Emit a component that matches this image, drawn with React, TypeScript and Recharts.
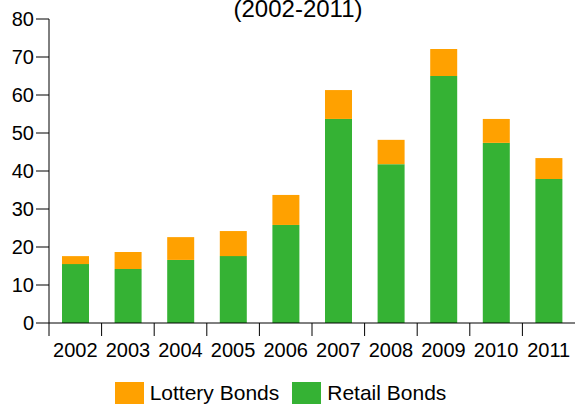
import React from 'react';
import { BarChart, Bar, XAxis, YAxis, Legend } from 'recharts';

const years = ['2002', '2003', '2004', '2005', '2006', '2007', '2008', '2009', '2010', '2011'];
const retailBonds = [15.5, 14.2, 16.6, 17.6, 25.8, 53.7, 41.8, 65.0, 47.4, 37.9];
const lotteryBonds = [2.1, 4.5, 6.0, 6.6, 7.9, 7.6, 6.4, 7.1, 6.3, 5.5];
const yTicks = [0, 10, 20, 30, 40, 50, 60, 70, 80];

const W = 575;
const H = 404;
const Y_AXIS_W = 49;
const FONT = '"Liberation Sans", Arial, sans-serif';
const GREEN = '#35b234';
const ORANGE = '#ffa100';

const data = years.map((year, i) => ({
  year,
  retail: retailBonds[i],
  lottery: lotteryBonds[i],
}));

const bandWidth = (W - Y_AXIS_W) / years.length;

const XTick = (props: any) => {
  const { x, y, payload } = props;
  const left = x - bandWidth / 2;
  return (
    <g>
      <line x1={left} y1={y} x2={left} y2={y + 13} stroke="#000" />
      <text x={x} y={y + 34} textAnchor="middle" fill="#000" fontSize={20} fontFamily={FONT}>
        {payload.value}
      </text>
    </g>
  );
};

const LegendContent = (props: any) => {
  const items = [...(props.payload || [])].sort((a: any, b: any) =>
    String(a.value).localeCompare(String(b.value))
  );
  return (
    <div style={{ display: 'flex', justifyContent: 'center', alignItems: 'flex-start' }}>
      {items.map((item: any, i: number) => (
        <div key={item.value} style={{ display: 'flex', alignItems: 'flex-start', marginRight: i < items.length - 1 ? 13 : 0 }}>
          <span style={{ width: 29, height: 29, background: item.color, marginRight: 6, display: 'inline-block' }} />
          <span style={{ fontSize: 21, lineHeight: '21px', color: '#000', fontFamily: FONT }}>{item.value}</span>
        </div>
      ))}
    </div>
  );
};

export default function App() {
  return (
    <div style={{ position: 'absolute', left: 0, top: 0, width: W, height: H, background: '#fff', fontFamily: FONT, overflow: 'hidden' }}>
      <div
        style={{
          position: 'absolute',
          top: -3,
          left: 0,
          width: 596,
          textAlign: 'center',
          fontSize: 24,
          lineHeight: '24px',
          color: '#000',
        }}
      >
        (2002-2011)
      </div>
      <BarChart width={W} height={H} data={data} margin={{ top: 19, right: 0, bottom: 0, left: 0 }}>
        <XAxis
          dataKey="year"
          height={81}
          axisLine={{ stroke: '#000' }}
          tickLine={false}
          tickSize={0}
          tickMargin={0}
          interval={0}
          tick={<XTick />}
        />
        <YAxis
          width={Y_AXIS_W}
          domain={[0, 80]}
          ticks={yTicks}
          interval={0}
          axisLine={{ stroke: '#000' }}
          tickLine={{ stroke: '#000' }}
          tickSize={13}
          tick={{ fill: '#000', fontSize: 20, fontFamily: FONT }}
        />
        <Legend
          layout="horizontal"
          verticalAlign="middle"
          align="center"
          content={<LegendContent />}
          wrapperStyle={{ top: 382, left: 0, width: 561 }}
        />
        <Bar dataKey="retail" name="Retail Bonds" stackId="a" fill={GREEN} barSize={27} isAnimationActive={false} />
        <Bar dataKey="lottery" name="Lottery Bonds" stackId="a" fill={ORANGE} barSize={27} isAnimationActive={false} />
      </BarChart>
    </div>
  );
}
